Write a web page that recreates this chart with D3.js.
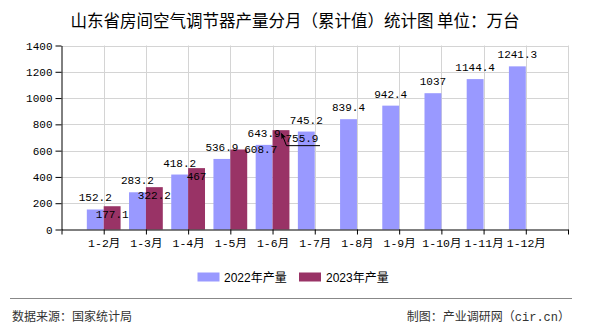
<!DOCTYPE html>
<html><head><meta charset="utf-8">
<script src="https://cdn.jsdelivr.net/npm/d3@7/dist/d3.min.js"></script>
<style>
html,body{margin:0;padding:0;background:#fff;}
svg{display:block;}
</style></head>
<body><svg id="chart" width="590" height="330"></svg>
<script>
const titleText = "山东省房间空气调节器产量分月（累计值）统计图 单位：万台";
const categories = ["1-2月","1-3月","1-4月","1-5月","1-6月","1-7月","1-8月","1-9月","1-10月","1-11月","1-12月"];
const values2022 = [152.2, 283.2, 418.2, 536.9, 643.9, 745.2, 839.4, 942.4, 1037, 1144.4, 1241.3];
const values2023 = [177.1, 322.2, 467, 608.7, 755.9];
const seriesNames = ["2022年产量", "2023年产量"];
const yTicks = [0, 200, 400, 600, 800, 1000, 1200, 1400];
const sourceText = "数据来源：国家统计局";
const creditText = "制图：产业调研网（cir.cn）";

const colors = ["#9999ff", "#993366"];
const numFont = "'Liberation Mono','Noto Sans CJK SC',monospace";
const cjkFont = "'Noto Sans CJK SC','Liberation Sans',sans-serif";

const svg = d3.select("#chart");
const L = 61.5, R = 568, T = 45.5, B = 229.5;

const x = d3.scaleLinear().domain([0, categories.length + 1]).range([L, R]);
const y = d3.scaleLinear().domain([0, 1400]).range([B, T]);
const step = x(1) - x(0);
const bw = step * 0.4;

// title
svg.append("text").attr("x", 295).attr("y", 26.5).attr("text-anchor", "middle")
  .style("font-family", cjkFont).style("font-size", "16.5px").attr("fill", "#000")
  .text(titleText);

// grid
const grid = svg.append("g").attr("stroke", "#d4d4d4").attr("stroke-width", 1);
yTicks.filter(d => d > 0).forEach(t => {
  grid.append("line").attr("x1", L).attr("x2", R).attr("y1", Math.round(y(t)) + 0.5).attr("y2", Math.round(y(t)) + 0.5);
});
d3.range(1, categories.length + 2).forEach(i => {
  grid.append("line").attr("x1", Math.round(x(i)) + 0.5).attr("x2", Math.round(x(i)) + 0.5).attr("y1", T).attr("y2", B);
});

// bars
svg.append("g").selectAll("rect").data(values2022).join("rect")
  .attr("x", (d, i) => x(i + 1) - bw).attr("width", bw)
  .attr("y", d => y(d)).attr("height", d => B - y(d)).attr("fill", colors[0]);
svg.append("g").selectAll("rect").data(values2023).join("rect")
  .attr("x", (d, i) => x(i + 1)).attr("width", bw)
  .attr("y", d => y(d)).attr("height", d => B - y(d)).attr("fill", colors[1]);

// axes
const xAxis = d3.axisBottom(x).tickValues(d3.range(0, categories.length + 2))
  .tickFormat(i => categories[i - 1] || "").tickSize(5).tickSizeOuter(0).tickPadding(4);
const gx = svg.append("g").attr("transform", `translate(0,${B})`).call(xAxis);
gx.selectAll("text").style("font-family", numFont).style("font-size", "11.5px").attr("fill", "#000");
gx.selectAll("line,path").attr("stroke", "#000");

const yAxis = d3.axisLeft(y).tickValues(yTicks).tickFormat(d3.format("d")).tickSize(6).tickSizeOuter(0).tickPadding(3);
const gy = svg.append("g").attr("transform", `translate(${L},0)`).call(yAxis);
gy.selectAll("text").style("font-family", numFont).style("font-size", "11px").attr("fill", "#000");
gy.selectAll("line,path").attr("stroke", "#000");

// labels
const lab = svg.append("g").style("font-family", numFont).style("font-size", "11px").attr("fill", "#000").attr("text-anchor", "middle");
lab.selectAll("text.a").data(values2022).join("text").attr("class", "a")
  .attr("x", (d, i) => x(i + 1) - bw / 2).attr("y", d => y(d) - 8).text(d => d);
// label displacement (collision-avoidance as in reference)
const shift2023 = {3: [22, 3.5], 4: [21, 12]};
lab.selectAll("text.b").data(values2023).join("text").attr("class", "b")
  .attr("x", (d, i) => x(i + 1) + bw / 2 + (shift2023[i] ? shift2023[i][0] : 0))
  .attr("y", (d, i) => y(d) + (shift2023[i] ? shift2023[i][1] : 12)).text(d => d);

// leader for displaced 755.9 label
{
  const i = 4, d = values2023[i];
  const cx = x(i + 1) + bw / 2, ty = y(d);
  const lx = cx + 21;
  svg.append("path")
    .attr("d", `M${cx + 1},${ty + 4} L${cx + 5.5},${ty + 15.5} L${lx + 18},${ty + 15.5}`)
    .attr("fill", "none").attr("stroke", "#000").attr("stroke-width", 1);
  svg.append("path")
    .attr("d", `M${cx},${ty + 2.5} L${cx + 5},${ty + 7} L${cx + 2.2},${ty + 7.2} L${cx + 0.6},${ty + 9} Z`)
    .attr("fill", "#000");
}

// legend
const leg = [[197.5, 224], [299, 326]];
seriesNames.forEach((n, k) => {
  svg.append("rect").attr("x", leg[k][0]).attr("y", 272.5).attr("width", 22).attr("height", 9).attr("fill", colors[k]);
  svg.append("text").attr("x", leg[k][1]).attr("y", 282).style("font-family", "'Liberation Sans','Noto Sans CJK SC',sans-serif")
    .style("font-size", "12px").attr("fill", "#000").text(n);
});

// separator + footer
svg.append("line").attr("x1", 10).attr("x2", 572).attr("y1", 298.5).attr("y2", 298.5).attr("stroke", "#888").attr("stroke-width", 1.2);
svg.append("text").attr("x", 12).attr("y", 321).style("font-family", cjkFont).style("font-size", "12px").attr("fill", "#333").text(sourceText);
svg.append("text").attr("x", 570).attr("y", 321).attr("text-anchor", "end").style("font-family", numFont).style("font-size", "12px").attr("fill", "#333").text(creditText);
</script>
</body></html>
